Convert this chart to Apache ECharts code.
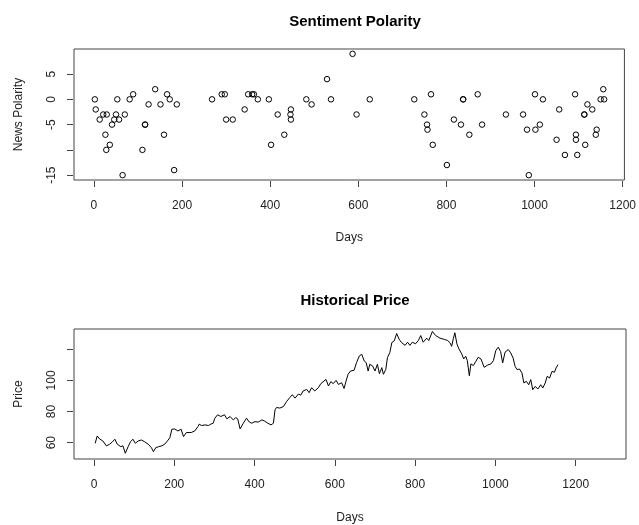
<!DOCTYPE html>
<html>
<head>
<meta charset="utf-8">
<script src="https://cdn.jsdelivr.net/npm/echarts@6/dist/echarts.min.js"></script>
<style>
html,body{margin:0;padding:0;background:#fff;}
#chart{width:639px;height:525px;}
</style>
</head>
<body>
<div id="chart"></div>
<script>
// ---- Sentiment polarity (top panel) ----
const sentDays = [2,4,13,21,29,26,28,36,41,46,50,53,57,65,70,81,89,110,116,116,124,139,151,159,166,172,182,188,
  268,290,297,300,315,342,350,359,363,372,397,402,417,432,446,447,447,482,494,529,538,587,596,626,
  727,750,756,757,765,769,801,817,833,838,838,852,871,881,935,974,983,987,1001,1002,1012,1019,
  1050,1056,1069,1092,1094,1094,1097,1113,1113,1115,1120,1131,1139,1141,1150,1156,1158];
const sentValues = [0,-2,-4,-3,-3,-7,-10,-9,-5,-4,-3,0,-4,-15,-3,0,1,-10,-5,-5,-1,2,-1,-7,1,0,-14,-1,
  0,1,1,-4,-4,-2,1,1,1,0,0,-9,-3,-7,-3,-2,-4,0,-1,4,0,9,-3,0,
  0,-3,-5,-6,1,-9,-13,-4,-5,0,0,-7,1,-5,-3,-3,-6,-15,1,-6,-5,0,
  -8,-2,-11,1,-7,-8,-11,-3,-3,-9,-1,-2,-7,-6,0,2,0];

// ---- Historical price (bottom panel) ----
const priceDays = [3,8,14,22,31,39,45,52,58,67,72,78,85,91,97,103,110,118,126,135,143,148,154,161,169,176,183,189,194,201,
  209,217,223,230,242,251,259,262,268,277,285,291,297,301,308,316,325,331,339,347,353,358,364,372,380,387,393,401,409,418,
  424,433,441,447,451,455,463,472,480,488,494,501,509,515,521,530,536,542,550,559,565,573,578,584,590,596,603,609,617,623,
  628,633,639,648,654,661,667,673,678,683,687,694,700,706,711,717,721,727,731,737,742,748,754,760,766,775,781,787,793,801,
  808,814,820,829,834,843,851,862,873,881,887,891,895,899,904,909,916,921,926,930,935,939,945,951,957,964,972,981,989,995,
  1001,1007,1013,1018,1024,1032,1038,1044,1049,1054,1060,1066,1071,1077,1083,1088,1093,1099,1106,1113,1118,1124,1129,1135,1141,1147,1151,1156];
const priceValues = [59.6,64.3,62.4,61.1,57.9,59.0,60.3,62.2,59.0,57.4,58.0,53.2,57.4,60.6,62.2,59.6,61.1,61.7,60.6,59.0,56.8,54.2,56.8,57.4,58.0,59.0,61.1,63.2,68.6,68.8,
  67.5,68.6,63.9,66.5,66.5,67.5,70.3,71.9,71.0,71.4,71.0,71.9,72.5,75.7,77.9,76.8,77.9,75.3,76.8,74.6,76.1,75.3,68.8,72.5,75.7,73.2,72.5,73.5,73.2,74.6,
  74.0,72.5,71.4,72.5,81.1,82.6,82.2,83.2,86.5,89.0,90.8,88.6,91.2,90.5,93.2,94.2,92.1,95.3,93.2,95.3,97.9,99.6,100.6,96.4,99.2,97.9,100.0,97.4,98.5,94.8,
  99.6,103.9,106.0,106.5,111.4,115.7,116.8,112.5,111.4,106.0,110.3,109.3,106.0,110.3,104.3,108.2,103.9,107.1,114.6,117.9,124.3,125.4,130.1,126.5,124.3,122.5,124.5,122.5,124.5,123.5,
  125.6,128.8,124.5,127.1,125.6,131.4,128.8,127.1,126.3,125.6,124.1,121.9,126.7,130.6,123.5,120.3,117.0,113.8,115.5,112.7,103.0,110.6,109.5,112.1,114.8,113.8,108.4,109.9,110.6,112.7,
  119.2,121.3,118.5,111.2,118.1,119.8,117.7,114.4,109.0,106.9,107.3,104.8,98.3,99.4,97.2,100.5,94.0,96.1,94.5,97.2,95.1,98.3,102.6,101.5,105.8,105.2,108.0,110.1];

// ---- Tick labels ----
const dayTicks = [0,200,400,600,800,1000,1200];
const polarityTicks = [-15,-10,-5,0,5];
const polarityLabels = [-15,-5,0,5];
const priceTicks = [60,80,100,120];
const priceLabels = [60,80,100];

const FONT = 'Liberation Sans, Arial, sans-serif';
const TXT = '#222';
const LINE = '#444';
const plain = v => String(v);

function xAxisCfg(gridIndex, min, max, gap) {
  return {
    type: 'value', gridIndex: gridIndex, min: min, max: max, offset: 1,
    axisLine: {show: false, onZero: false},
    axisTick: {show: true, length: 6, customValues: dayTicks, lineStyle: {color: LINE, width: 1}},
    axisLabel: {show: true, customValues: dayTicks, formatter: plain, margin: 19, fontSize: 12, color: TXT, fontFamily: FONT},
    splitLine: {show: false},
    name: 'Days', nameLocation: 'middle', nameGap: gap,
    nameTextStyle: {fontSize: 12, color: TXT, fontFamily: FONT}
  };
}
function yAxisCfg(gridIndex, min, max, ticks, labels, name) {
  return {
    type: 'value', gridIndex: gridIndex, min: min, max: max, offset: 1,
    axisLine: {show: false, onZero: false},
    axisTick: {show: true, length: 6, customValues: ticks, lineStyle: {color: LINE, width: 1}},
    axisLabel: {show: true, customValues: labels, formatter: plain, rotate: 90, margin: 15, fontSize: 12, color: TXT, fontFamily: FONT},
    splitLine: {show: false},
    name: name, nameLocation: 'middle', nameGap: 48, nameRotate: 90,
    nameTextStyle: {fontSize: 12, color: TXT, fontFamily: FONT}
  };
}

const chart = echarts.init(document.getElementById('chart'), null, {renderer: 'canvas'});
chart.setOption({
  animation: false,
  backgroundColor: '#fff',
  title: [
    {text: 'Sentiment Polarity', left: 350, top: 9, textAlign: 'center',
     textStyle: {fontSize: 15, fontWeight: 'bold', color: '#000', fontFamily: FONT}},
    {text: 'Historical Price', left: 350, top: 288, textAlign: 'center',
     textStyle: {fontSize: 15, fontWeight: 'bold', color: '#000', fontFamily: FONT}}
  ],
  grid: [
    {left: 74, top: 49, width: 552, height: 131, show: true, borderColor: LINE, borderWidth: 1, backgroundColor: 'transparent', containLabel: false},
    {left: 74, top: 329, width: 552, height: 130, show: true, borderColor: LINE, borderWidth: 1, backgroundColor: 'transparent', containLabel: false}
  ],
  xAxis: [xAxisCfg(0, -45.3, 1204, 51), xAxisCfg(1, -49.8, 1325.3, 52)],
  yAxis: [
    yAxisCfg(0, -15.96, 9.96, polarityTicks, polarityLabels, 'News Polarity'),
    yAxisCfg(1, 49.5, 133.0, priceTicks, priceLabels, 'Price')
  ],
  series: [
    {
      type: 'scatter', xAxisIndex: 0, yAxisIndex: 0,
      data: sentDays.map((d, i) => [d, sentValues[i]]),
      symbol: 'circle', symbolSize: 5.5,
      itemStyle: {color: 'rgba(0,0,0,0)', borderColor: '#000', borderWidth: 1, opacity: 1},
      emphasis: {disabled: true}
    },
    {
      type: 'line', xAxisIndex: 1, yAxisIndex: 1,
      data: priceDays.map((d, i) => [d, priceValues[i]]),
      showSymbol: false, symbol: 'none',
      lineStyle: {color: '#000', width: 1},
      emphasis: {disabled: true}
    }
  ]
});
</script>
</body>
</html>
